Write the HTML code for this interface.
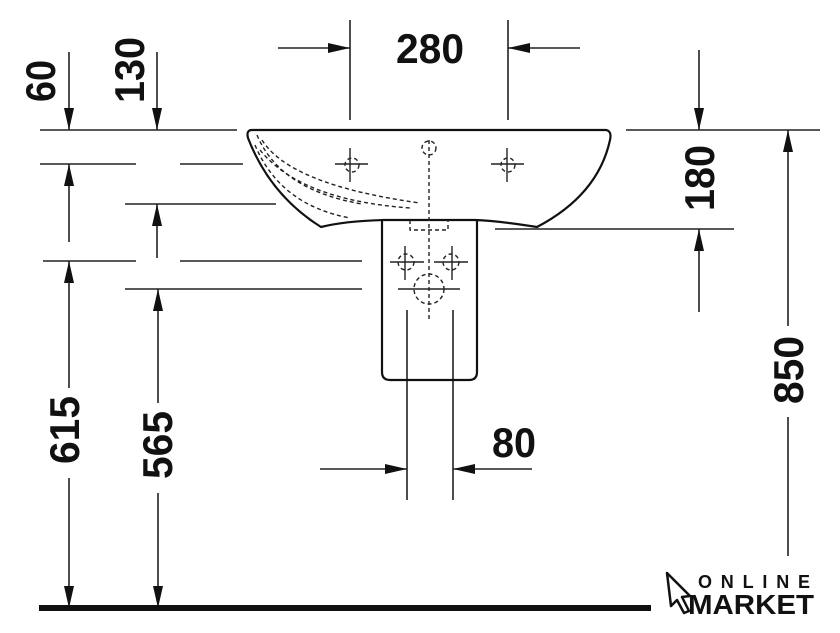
<!DOCTYPE html>
<html><head><meta charset="utf-8"><style>
html,body{margin:0;padding:0;background:#fff;}
svg{display:block;}
text{font-family:"Liberation Sans",sans-serif;font-weight:bold;fill:#111;}
</style></head><body>
<svg width="840" height="633" viewBox="0 0 840 633" xmlns="http://www.w3.org/2000/svg">
<defs>
<marker id="a" markerWidth="24" markerHeight="12" refX="22" refY="5" orient="auto" markerUnits="userSpaceOnUse">
<path d="M0,0 L22,5 L0,10 Z" fill="#111"/>
</marker>
</defs>
<g stroke="#222" stroke-width="1.6" fill="none">
<!-- horizontal reference lines -->
<line x1="40" y1="130" x2="237" y2="130"/>
<line x1="626" y1="130" x2="820" y2="130"/>
<line x1="40" y1="164" x2="136" y2="164"/>
<line x1="180" y1="164" x2="243" y2="164"/>
<line x1="125" y1="204" x2="276" y2="204"/>
<line x1="43" y1="261" x2="136" y2="261"/>
<line x1="180" y1="261" x2="362" y2="261"/>
<line x1="125" y1="289" x2="362" y2="289"/>
<line x1="495" y1="229" x2="734" y2="229"/>
<!-- 280 -->
<line x1="350" y1="20" x2="350" y2="120"/>
<line x1="508" y1="20" x2="508" y2="120"/>
<line x1="278" y1="48" x2="350" y2="48" marker-end="url(#a)"/>
<line x1="580" y1="48" x2="508" y2="48" marker-end="url(#a)"/>
<!-- 60 / 130 -->
<line x1="69" y1="52" x2="69" y2="130" marker-end="url(#a)"/>
<line x1="157" y1="52" x2="157" y2="130" marker-end="url(#a)"/>
<line x1="69" y1="242" x2="69" y2="164" marker-end="url(#a)"/>
<line x1="157" y1="258" x2="157" y2="204" marker-end="url(#a)"/>
<!-- 615 / 565 -->
<line x1="69" y1="388" x2="69" y2="261" marker-end="url(#a)"/>
<line x1="69" y1="478" x2="69" y2="608" marker-end="url(#a)"/>
<line x1="158" y1="403" x2="158" y2="289" marker-end="url(#a)"/>
<line x1="158" y1="493" x2="158" y2="608" marker-end="url(#a)"/>
<!-- 180 -->
<line x1="699" y1="50" x2="699" y2="130" marker-end="url(#a)"/>
<line x1="699" y1="312" x2="699" y2="229" marker-end="url(#a)"/>
<!-- 850 -->
<line x1="788" y1="326" x2="788" y2="130" marker-end="url(#a)"/>
<line x1="788" y1="417" x2="788" y2="556"/>
<!-- 80 -->
<line x1="407" y1="310" x2="407" y2="500"/>
<line x1="453" y1="310" x2="453" y2="500"/>
<line x1="320" y1="469" x2="407" y2="469" marker-end="url(#a)"/>
<line x1="532" y1="469" x2="453" y2="469" marker-end="url(#a)"/>
</g>
<!-- baseline -->
<rect x="39" y="605" width="612" height="6" fill="#111"/>
<!-- basin -->
<g stroke="#111" stroke-width="2.2" fill="none" stroke-linejoin="round">
<path d="M252,130 L606,130 Q612,131 610,140 Q598,195 537,227 Q500,221 475,220 L384,220 Q345,221 321,227 Q270,195 248,138 Q246,130 252,130 Z"/>
<path d="M382,220 L382,372 Q382,380 390,380 L469,380 Q477,380 477,372 L477,220"/>
</g>
<g stroke="#222" stroke-width="1.4" fill="none" stroke-dasharray="4,3">
<path d="M257,135 Q280,190 362,204"/>
<path d="M262,140 Q290,185 420,203"/>
<path d="M255,145 Q280,205 350,218"/>
<path d="M260,150 Q300,200 410,208"/>
<circle cx="429" cy="148" r="7"/>
<circle cx="352" cy="165" r="7"/>
<circle cx="508" cy="165" r="7"/>
<circle cx="406" cy="262" r="8"/>
<circle cx="451" cy="262" r="8"/>
<circle cx="429" cy="289" r="15"/>
<path d="M410,220 L410,230 L448,230 L448,220"/>
<line x1="429" y1="140" x2="429" y2="320"/>
</g>
<g stroke="#222" stroke-width="1.4">
<line x1="335" y1="164" x2="368" y2="164"/><line x1="350" y1="148" x2="350" y2="182"/>
<line x1="491" y1="164" x2="524" y2="164"/><line x1="507" y1="148" x2="507" y2="182"/>
<line x1="390" y1="262" x2="424" y2="262"/><line x1="405" y1="246" x2="405" y2="280"/>
<line x1="434" y1="262" x2="468" y2="262"/><line x1="452" y1="246" x2="452" y2="280"/>
<line x1="398" y1="289" x2="460" y2="289"/>
</g>
<!-- labels -->
<text x="430" y="63" font-size="42" text-anchor="middle" textLength="68" lengthAdjust="spacingAndGlyphs">280</text>
<text x="514" y="457" font-size="42" text-anchor="middle" textLength="44" lengthAdjust="spacingAndGlyphs">80</text>
<text transform="translate(40,81) rotate(-90)" y="15" font-size="42" text-anchor="middle" textLength="42" lengthAdjust="spacingAndGlyphs">60</text>
<text transform="translate(129,70) rotate(-90)" y="15" font-size="42" text-anchor="middle" textLength="66" lengthAdjust="spacingAndGlyphs">130</text>
<text transform="translate(64,430) rotate(-90)" y="15" font-size="42" text-anchor="middle" textLength="68" lengthAdjust="spacingAndGlyphs">615</text>
<text transform="translate(157,445) rotate(-90)" y="15" font-size="42" text-anchor="middle" textLength="68" lengthAdjust="spacingAndGlyphs">565</text>
<text transform="translate(699,178) rotate(-90)" y="15" font-size="42" text-anchor="middle" textLength="66" lengthAdjust="spacingAndGlyphs">180</text>
<text transform="translate(788,370) rotate(-90)" y="15" font-size="42" text-anchor="middle" textLength="68" lengthAdjust="spacingAndGlyphs">850</text>
<!-- logo -->
<path d="M667,573 L690,596 L682,597 L689,611 L684,613 L677,600 L671,606 Z" fill="#fff" stroke="#111" stroke-width="2.5" stroke-linejoin="round"/>
<text x="698" y="588" font-size="18" textLength="112" lengthAdjust="spacing">ONLINE</text>
<text x="688" y="614" font-size="28" font-weight="900" textLength="126" lengthAdjust="spacingAndGlyphs">MARKET</text>
</svg>
</body></html>
